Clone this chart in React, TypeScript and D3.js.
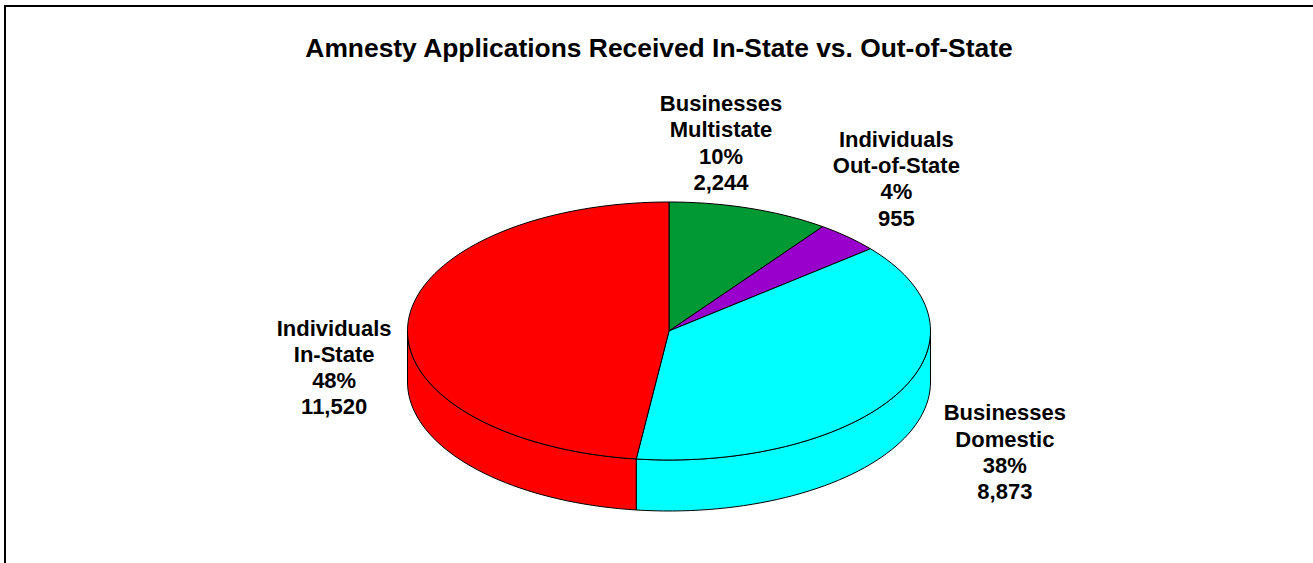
import React, { useRef, useEffect } from 'react';
import * as d3 from 'd3';

// chart data
const categories = ["Businesses Multistate", "Individuals Out-of-State", "Businesses Domestic", "Individuals In-State"];
const labelLines = [["Businesses", "Multistate"], ["Individuals", "Out-of-State"], ["Businesses", "Domestic"], ["Individuals", "In-State"]];
const applications = [2244, 955, 8873, 11520];
// the slices are sized by the shown percentages (they give the angles in the picture)
const sharePct = [10, 4, 38, 48];
const sliceColors = ["#009933", "#9900CC", "#00FFFF", "#FF0000"];

const title = "Amnesty Applications Received In-State vs. Out-of-State";

// labels were dragged by hand in the workbook, so they sit a little off the computed spot
const labelNudge = [[-52, -10], [-3, -22], [41, -8], [1, 24]];

function App() {
    const svgRef = useRef(null);

    useEffect(() => {
    const W = 1313, H = 563;
    const cx = 669, cy = 331;
    const rx = 261.5, ry = 129;
    const depth = 51;
    const font = "'Liberation Sans', Arial, Helvetica, sans-serif";

    const svg = d3.select(svgRef.current)
        .attr("width", W)
        .attr("height", H);
    svg.selectAll("*").remove();

    svg.append("rect").attr("width", W).attr("height", H).attr("fill", "#fff");

    // chart frame, runs off the right and bottom of the picture
    svg.append("rect")
        .attr("x", 5).attr("y", 6)
        .attr("width", W + 20).attr("height", H + 20)
        .attr("fill", "none")
        .attr("stroke", "#000")
        .attr("stroke-width", 2);

    svg.append("text")
        .attr("x", 659).attr("y", 57)
        .attr("text-anchor", "middle")
        .attr("font-family", font)
        .attr("font-weight", "bold")
        .attr("font-size", 26.4)
        .text(title);

    const data = categories.map((c, i) => ({ name: c, value: sharePct[i], i }));
    const arcs = d3.pie().sort(null).value(d => d.value)(data);

    // angle 0 at 12 o'clock, clockwise, projected onto the tilted ellipse
    const px = a => cx + rx * Math.sin(a);
    const py = (a, dy = 0) => cy - ry * Math.cos(a) + dy;
    const line = d3.line().x(d => d[0]).y(d => d[1]);
    const rim = (a0, a1, dy = 0) => {
        const n = Math.max(2, Math.ceil((Math.abs(a1 - a0) / Math.PI) * 90));
        return d3.range(n + 1).map(k => {
            const a = a0 + (a1 - a0) * k / n;
            return [px(a), py(a, dy)];
        });
    };

    // front walls (visible between 90 and 270 degrees)
    const lo = Math.PI / 2, hi = Math.PI * 1.5;
    arcs.forEach(s => {
        const a0 = Math.max(s.startAngle, lo), a1 = Math.min(s.endAngle, hi);
        if (a1 <= a0) return;
        const pts = rim(a0, a1).concat(rim(a1, a0, depth));
        svg.append("path")
            .attr("d", line(pts) + "Z")
            .attr("fill", sliceColors[s.data.i])
            .attr("stroke", "#000")
            .attr("stroke-width", 1)
            .attr("stroke-linejoin", "round");
    });

    // top faces
    arcs.forEach(s => {
        const pts = [[cx, cy]].concat(rim(s.startAngle, s.endAngle));
        svg.append("path")
            .attr("d", line(pts) + "Z")
            .attr("fill", sliceColors[s.data.i])
            .attr("stroke", "#000")
            .attr("stroke-width", 1)
            .attr("stroke-linejoin", "round");
    });

    // data labels: name, percent, count
    const lineGap = 26.3;
    arcs.forEach(s => {
        const mid = (s.startAngle + s.endAngle) / 2;
        const i = s.data.i;
        const lx = cx + Math.sin(mid) * (rx + 75) + labelNudge[i][0];
        const ly = cy - Math.cos(mid) * (ry + 60) + depth * (1 - Math.cos(mid)) / 2 + labelNudge[i][1];
        const lines = labelLines[i].concat([sharePct[i] + "%", d3.format(",")(applications[i])]);
        const t = svg.append("text")
            .attr("text-anchor", "middle")
            .attr("font-family", font)
            .attr("font-weight", "bold")
            .attr("font-size", 22)
            .attr("fill", "#000");
        lines.forEach((txt, k) => {
            t.append("tspan")
                .attr("x", lx)
                .attr("y", ly + (k - (lines.length - 1) / 2) * lineGap + 8)
                .text(txt);
        });
    });
  }, []);

    return (
        <svg ref={svgRef} style={{ position: "absolute", left: 0, top: 0, display: "block" }}></svg>
    );
};
export default App;
